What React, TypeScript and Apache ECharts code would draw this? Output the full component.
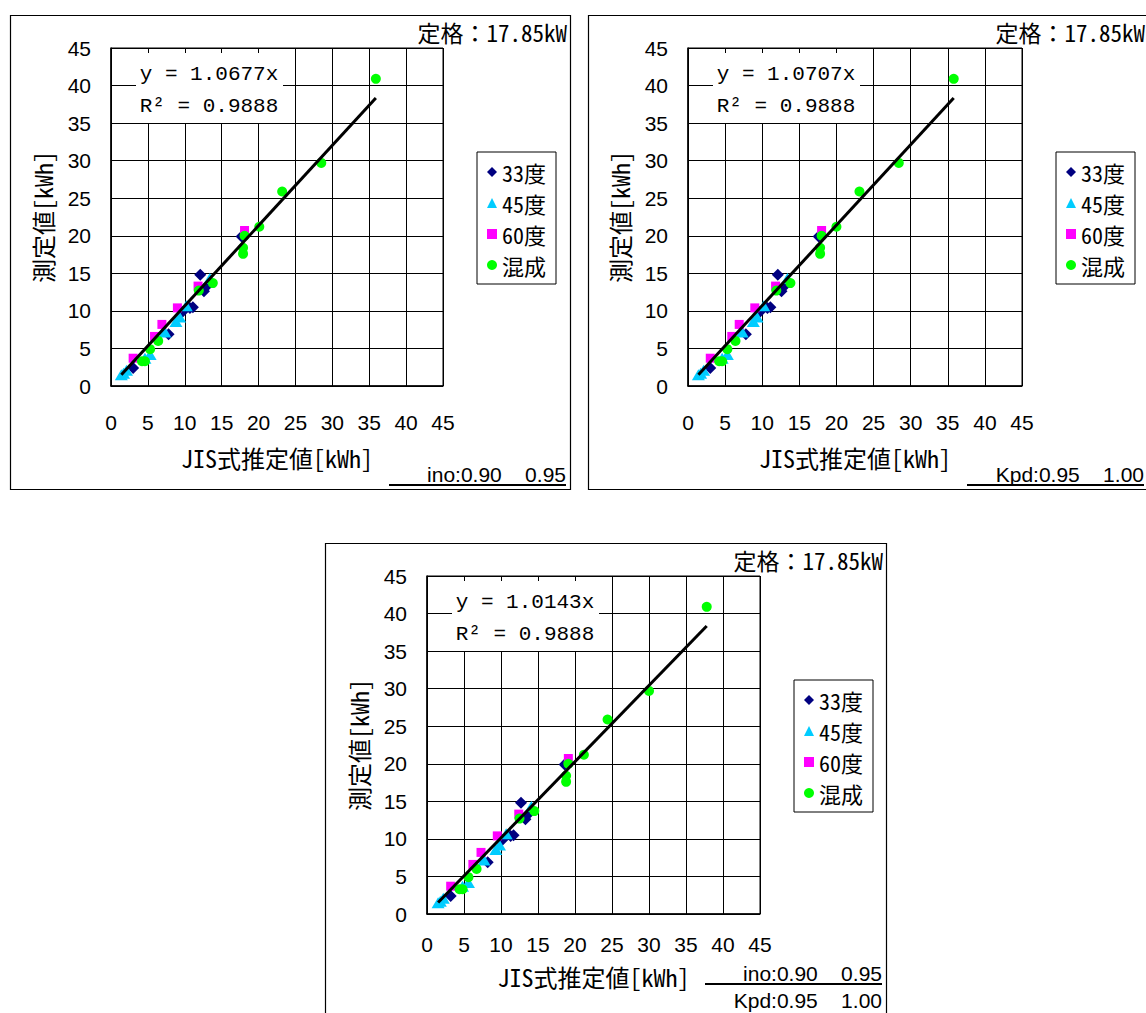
import React, { useEffect, useRef } from "react";
import * as echarts from "echarts";

// ---- data ----
const seriesNames = ["33度", "45度", "60度", "混成"];
const axisTicks = [0, 5, 10, 15, 20, 25, 30, 35, 40, 45];

// measured values (y) shared by every panel
const y33 = [2.4, 6.9, 9.9, 10.4, 10.5, 14.8, 12.6, 13.2, 19.9];
const y45 = [1.5, 1.7, 2.1, 3.7, 4.2, 7.2, 8.6, 9.2, 10.7, 14.3];
const y60 = [3.7, 6.6, 8.2, 10.4, 13.3, 20.7];
const yMix = [3.3, 3.3, 4.9, 6.0, 12.7, 13.7, 17.6, 18.4, 20.0, 21.2, 25.9, 29.7, 40.9];

// JIS estimates (x) — panel A (ino 0.90/0.95)
const x33A = [3.0, 7.8, 9.7, 10.7, 11.1, 12.1, 12.6, 12.9, 17.7];
const x45A = [1.4, 1.7, 2.1, 4.6, 5.3, 7.3, 8.8, 9.3, 10.2, 13.4];
const x60A = [3.0, 5.9, 6.9, 9.0, 11.8, 18.1];
const xMixA = [4.2, 4.6, 5.3, 6.4, 11.9, 13.8, 17.9, 17.9, 18.1, 20.1, 23.2, 28.5, 35.9];

// panel B (Kpd 0.95/1.00)
const x33B = [3.0, 7.8, 9.7, 10.7, 11.1, 12.1, 12.6, 12.9, 17.6];
const x45B = [1.4, 1.7, 2.1, 4.6, 5.3, 7.3, 8.8, 9.3, 10.2, 13.4];
const x60B = [3.0, 5.9, 6.9, 9.0, 11.8, 18.0];
const xMixB = [4.2, 4.6, 5.3, 6.4, 11.9, 13.8, 17.8, 17.8, 18.0, 20.0, 23.1, 28.4, 35.8];

// panel C (both)
const x33C = [3.2, 8.2, 10.2, 11.3, 11.7, 12.7, 13.3, 13.6, 18.6];
const x45C = [1.5, 1.8, 2.2, 4.8, 5.6, 7.7, 9.3, 9.8, 10.7, 14.1];
const x60C = [3.2, 6.2, 7.3, 9.5, 12.4, 19.1];
const xMixC = [4.4, 4.8, 5.6, 6.7, 12.5, 14.5, 18.8, 18.8, 19.1, 21.2, 24.4, 30.0, 37.8];

const slopes = [1.0677, 1.0707, 1.0143];
const r2Values = ["0.9888", "0.9888", "0.9888"];
const ratingText = "定格：17.85kW";
const footLines = [["ino:0.90    0.95"], ["Kpd:0.95    1.00"], ["ino:0.90    0.95", "Kpd:0.95    1.00"]];

// ---- styles ----
const colors = ["#000080", "#00CCFF", "#FF00FF", "#00FF00"];
const symbols = ["diamond", "triangle", "rect", "circle"];
const symSizes: any[] = [12, [13, 11], 9, 10];

const CJK = '"Noto Sans Mono CJK JP", "Noto Sans CJK JP", sans-serif';
const SANS = '"Liberation Sans", Arial, sans-serif';
const MONO = '"Liberation Mono", "DejaVu Sans Mono", monospace';

const panels = [
  { box: [10, 15, 560, 474], grid: [111, 48, 332, 338], labelMargin: 26, nameGap: 59, xs: [x33A, x45A, x60A, xMixA] },
  { box: [588, 15, 560, 474], grid: [688, 48, 334, 338], labelMargin: 26, nameGap: 59, xs: [x33B, x45B, x60B, xMixB] },
  { box: [325, 543, 561, 474], grid: [427, 576, 333, 338], labelMargin: 20, nameGap: 50, xs: [x33C, x45C, x60C, xMixC] },
];
const ys = [y33, y45, y60, yMix];

export default function App() {
  const ref = useRef<HTMLDivElement>(null);
  useEffect(() => {
    if (!ref.current) return;
    const chart = echarts.init(ref.current, null, { renderer: "svg" });
    const grid: any[] = [];
    const xAxis: any[] = [];
    const yAxis: any[] = [];
    const series: any[] = [];
    const legend: any[] = [];
    const graphic: any[] = [];

    panels.forEach((p, i) => {
      const [gl, gt, gw, gh] = p.grid;
      grid.push({ left: gl, top: gt, width: gw, height: gh, show: true, borderColor: "#000", borderWidth: 1, backgroundColor: "#fff" });
      const common = {
        gridIndex: i,
        type: "value",
        min: axisTicks[0],
        max: axisTicks[axisTicks.length - 1],
        interval: axisTicks[1] - axisTicks[0],
        axisLine: { show: true, lineStyle: { color: "#000", width: 1.5 } },
        axisTick: { show: true, inside: true, length: 6, lineStyle: { color: "#000" } },
        splitLine: { show: true, lineStyle: { color: "#000", width: 1 } },
        nameLocation: "middle",
        nameTextStyle: { fontFamily: CJK, fontSize: 24, color: "#000", lineHeight: 24 },
      };
      xAxis.push({
        ...common,
        name: "JIS式推定値[kWh]",
        nameGap: p.nameGap,
        axisLabel: { margin: p.labelMargin, fontFamily: SANS, fontSize: 21, color: "#000" },
      });
      yAxis.push({
        ...common,
        name: "測定値[kWh]",
        nameGap: 57,
        axisLabel: { margin: 20, fontFamily: SANS, fontSize: 21, color: "#000" },
      });
      let minX = Infinity;
      let maxX = -Infinity;
      seriesNames.forEach((n, k) => {
        const xs = p.xs[k];
        xs.forEach((v) => { minX = Math.min(minX, v); maxX = Math.max(maxX, v); });
        series.push({
          type: "scatter",
          name: n,
          xAxisIndex: i,
          yAxisIndex: i,
          symbol: symbols[k],
          symbolSize: symSizes[k],
          itemStyle: { color: colors[k], opacity: 1 },
          data: xs.map((v, j) => [v, ys[k][j]]),
          z: 3 + k,
        });
      });
      series.push({
        type: "line",
        name: "trend" + i,
        xAxisIndex: i,
        yAxisIndex: i,
        showSymbol: false,
        symbol: "none",
        lineStyle: { color: "#000", width: 3 },
        data: [[minX, slopes[i] * minX], [maxX, slopes[i] * maxX]],
        z: 10,
      });
      legend.push({
        data: seriesNames,
        orient: "vertical",
        left: gl + gw + 34,
        top: gt + 104,
        padding: [9, 10, 8, 10],
        itemGap: 9,
        itemWidth: 10,
        itemHeight: 10,
        borderColor: "#000",
        borderWidth: 1,
        backgroundColor: "#fff",
        textStyle: { fontFamily: CJK, fontSize: 22, color: "#000" },
        selectedMode: false,
      });

      const [bx, by, bw, bh] = p.box;
      graphic.push({
        type: "rect",
        shape: { x: bx + 0.5, y: by + 0.5, width: bw, height: bh },
        style: { fill: "none", stroke: "#000", lineWidth: 1.2 },
        z: 1,
      });
      graphic.push({
        type: "text",
        x: bx + bw - 3,
        y: by + 17,
        style: { text: ratingText, font: `23px ${CJK}`, fill: "#000", align: "right", verticalAlign: "middle" },
        z: 100,
      });
      // equation label
      graphic.push({
        type: "rect",
        shape: { x: gl + 25, y: gt + 5, width: 147, height: 70 },
        style: { fill: "#fff" },
        z: 100,
      });
      graphic.push({
        type: "text",
        x: gl + 98,
        y: gt + 26,
        style: { text: `y = ${slopes[i].toFixed(4)}x`, font: `21px ${MONO}`, fill: "#000", align: "center", verticalAlign: "middle" },
        z: 101,
      });
      graphic.push({
        type: "text",
        x: gl + 98,
        y: gt + 58,
        style: { text: `R² = ${r2Values[i]}`, font: `21px ${MONO}`, fill: "#000", align: "center", verticalAlign: "middle" },
        z: 101,
      });
      // footnotes
      const lines = footLines[i];
      const right = bx + bw - 4;
      const baseY = i === 2 ? by + 430 : by + 459;
      lines.forEach((t, li) => {
        graphic.push({
          type: "text",
          x: right,
          y: baseY + li * 27,
          style: { text: t, font: `21px ${SANS}`, fill: "#000", align: "right", verticalAlign: "middle" },
          z: 100,
        });
      });
      graphic.push({
        type: "line",
        shape: { x1: right - 177, y1: baseY + 11, x2: right, y2: baseY + 11 },
        style: { stroke: "#000", lineWidth: 2 },
        z: 100,
      });
    });

    chart.setOption({
      animation: false,
      backgroundColor: "#fff",
      grid,
      xAxis,
      yAxis,
      series,
      legend,
      graphic,
    });
    return () => chart.dispose();
  }, []);
  return (
    <div
      ref={ref}
      style={{ position: "absolute", left: 0, top: 0, width: 1146, height: 1013 }}
    />
  );
}
